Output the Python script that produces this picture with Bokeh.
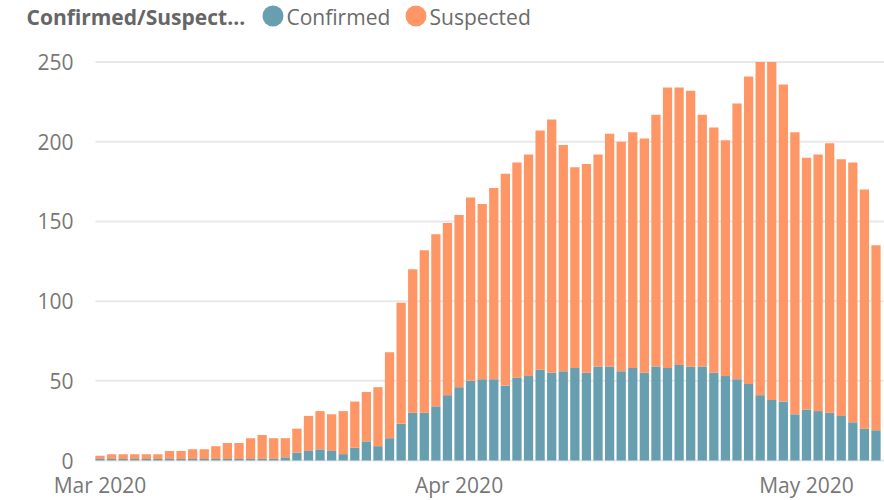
import pandas as pd
from bokeh.plotting import figure
from bokeh.models import ColumnDataSource, Range1d, Label
from bokeh.core.properties import value
from bokeh.embed import file_html
from bokeh.resources import INLINE

# ---------------- data ----------------
start_date = "2020-03-01"
confirmed = [1, 1, 1, 1, 1, 1, 1, 1, 1, 1, 1, 1, 1, 1, 1, 1, 2, 5, 6, 7,
             6, 4, 8, 12, 9, 14, 23, 30, 30, 34, 41, 46, 50, 51, 51, 47, 52, 53, 57, 55,
             56, 58, 55, 59, 59, 56, 58, 55, 59, 58, 60, 59, 59, 55, 53, 51, 48, 41, 38, 37,
             29, 32, 31, 30, 28, 24, 20, 19]
suspected = [2, 3, 3, 3, 3, 3, 5, 5, 6, 6, 8, 10, 10, 13, 15, 13, 12, 15, 22, 24,
             23, 27, 29, 31, 37, 54, 76, 90, 102, 108, 108, 108, 115, 110, 120, 133, 135, 139, 150, 159,
             142, 126, 131, 133, 146, 144, 148, 147, 158, 176, 174, 173, 158, 154, 148, 173, 193, 209, 212, 199,
             177, 158, 161, 169, 161, 163, 150, 116]
series = ["Confirmed", "Suspected"]
colors = ["#689FB0", "#FE9666"]
chart_title = "Confirmed/Suspect..."
y_ticks = [0, 50, 100, 150, 200, 250]
x_tick_dates = ["2020-03-01", "2020-04-01", "2020-05-01"]
x_tick_labels = ["Mar 2020", "Apr 2020", "May 2020"]

FONT = "Open Sans"
GRID = "#e8e8e8"
TICK_COLOR = "#777777"
dates = pd.date_range(start_date, periods=len(confirmed), freq="D")
DAY_MS = 86400000
src = ColumnDataSource(dict(date=dates, Confirmed=confirmed, Suspected=suspected))

# ---------------- geometry (picture pixels) ----------------
W, H = 884, 500
BASE_PX, TOP_PX = 460.0, 61.6      # vertical pixel of the values 0 and 250
K = (BASE_PX - TOP_PX) / 250.0     # pixels per unit
BAR1_PX, PX_PER_DAY = 99.5, 11.582
T0 = dates[0].value / 1e6
PLOT_LEFT = 95


def px_x(px):
    return T0 + (px - BAR1_PX) / PX_PER_DAY * DAY_MS


def px_y(py):
    return (BASE_PX - py) / K


p = figure(width=W, height=H, title=None, x_axis_location=None, y_axis_location=None,
           x_range=Range1d(px_x(0), px_x(W)), y_range=Range1d(px_y(H), px_y(0)),
           output_backend="svg", toolbar_location=None, min_border=0)
p.grid.visible = False
p.outline_line_color = None

# horizontal gridlines + y tick labels
n = len(y_ticks)
p.segment(x0=[px_x(PLOT_LEFT)] * n, x1=[px_x(W)] * n, y0=y_ticks, y1=y_ticks,
          line_color=GRID, line_width=2, level="underlay")
p.text(x=[px_x(73)] * n, y=y_ticks, text=[str(t) for t in y_ticks],
       text_align="right", text_baseline="middle", text_font=value(FONT),
       text_font_size="21px", text_color=TICK_COLOR)

# x tick labels at month starts
xt = pd.to_datetime(x_tick_dates)
p.text(x=xt, y=[px_y(484.5)] * len(xt), text=x_tick_labels,
       text_align="center", text_baseline="middle", text_font=value(FONT),
       text_font_size="21px", text_color=TICK_COLOR)

# stacked bars
p.vbar_stack(series, x="date", width=0.8 * DAY_MS, color=colors, line_color=None, source=src)

# ---------------- header: title + legend ----------------
HEAD_Y = px_y(16)
p.add_layout(Label(x=px_x(26), y=HEAD_Y, text=chart_title, text_font=FONT, text_font_size="21px",
                   text_font_style="bold", text_color="#666666", text_baseline="middle"))
leg_px = [272.5, 415.5]
p.scatter(x=[px_x(v) for v in leg_px], y=[px_y(15.5)] * 2, size=21, color=colors, line_color=None)
for lx, name in zip(leg_px, series):
    p.add_layout(Label(x=px_x(lx + 13.5), y=HEAD_Y, text=name, text_font=FONT, text_font_size="21px",
                       text_color="#6b6b6b", text_baseline="middle"))

open("out.html", "w").write(file_html(p, INLINE))
